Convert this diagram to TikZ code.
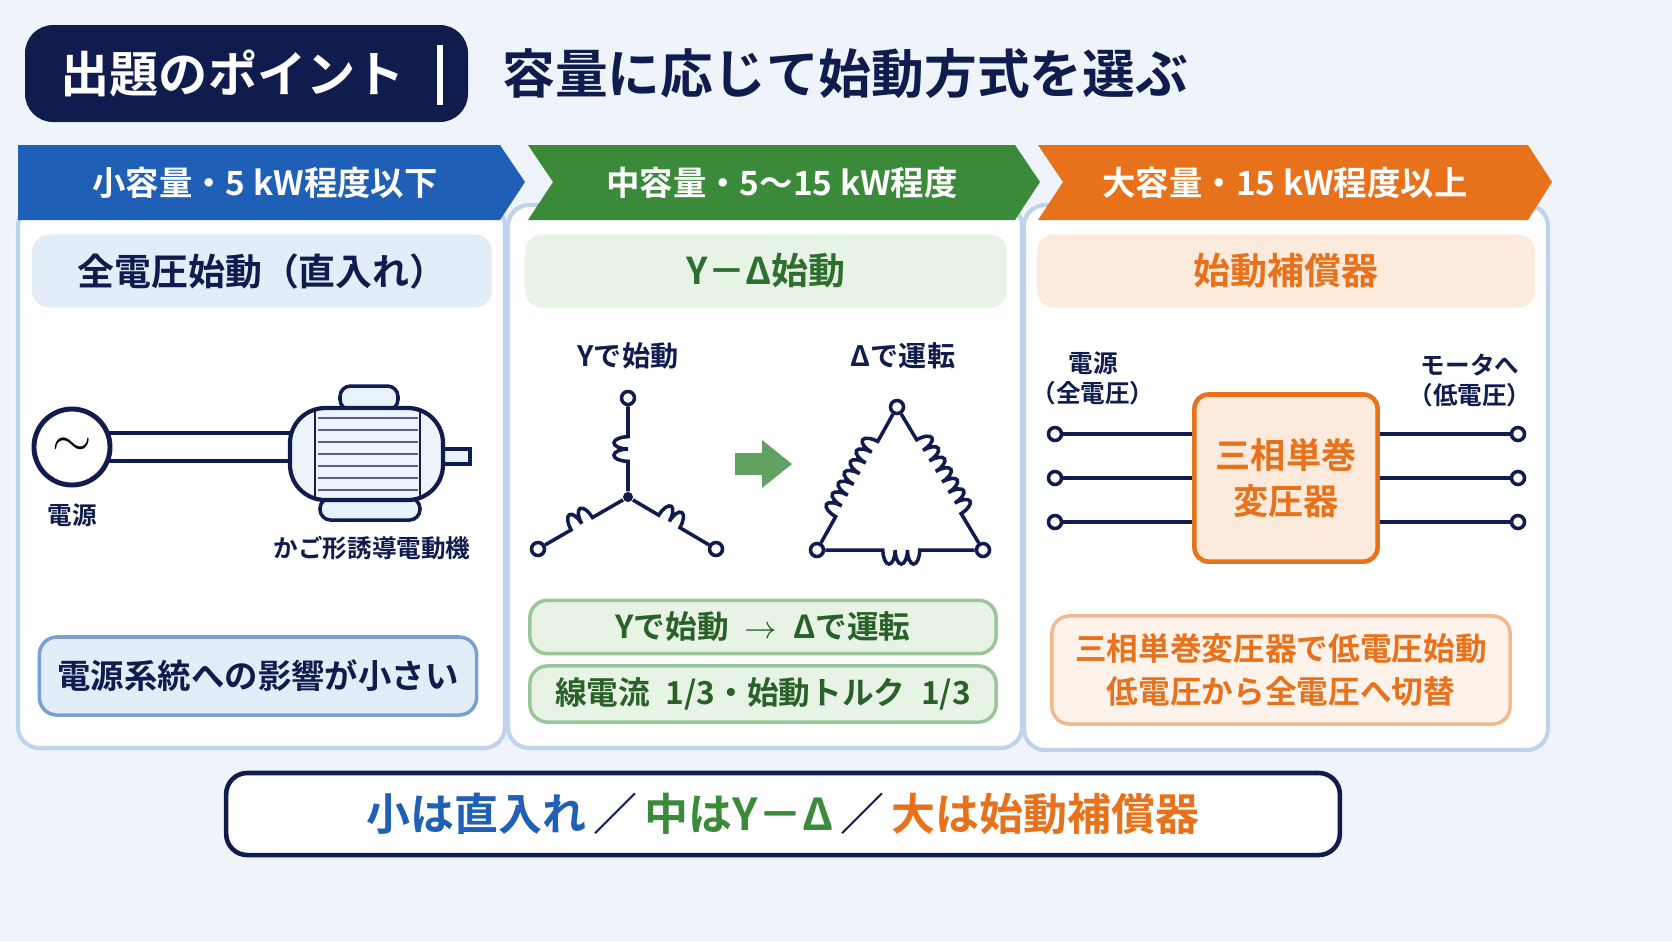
\documentclass[tikz,border=0pt]{standalone}
\usepackage{fontspec}
\setmainfont{Noto Sans CJK JP}[BoldFont={Noto Sans CJK JP Bold}]
\usetikzlibrary{arrows.meta,decorations.pathmorphing,shapes.arrows}
\definecolor{navy}{HTML}{0F1C4D}
\definecolor{cblue}{HTML}{1F5FB5}
\definecolor{cgreen}{HTML}{3A8A3A}
\definecolor{corange}{HTML}{E8721C}
\definecolor{lblue}{HTML}{E3EDF9}
\definecolor{lgreen}{HTML}{E7F3E4}
\definecolor{lorange}{HTML}{FCEBDD}
\definecolor{pborder}{HTML}{BFD3EC}
\definecolor{bg}{HTML}{EFF4FA}
\tikzset{
  panel/.style={draw=pborder, line width=1.2pt, fill=white, rounded corners=6pt},
  subhead/.style={rounded corners=5pt, minimum width=4.6cm, minimum height=0.73cm, font=\bfseries\fontsize{10.5}{12}\selectfont},
  label/.style={font=\bfseries\fontsize{7}{8.5}\selectfont, text=navy, align=center},
  infobox/.style={rounded corners=5pt, line width=1pt, font=\bfseries\fontsize{8.5}{12}\selectfont, align=center},
  wire/.style={line width=1.3pt, draw=navy},
  term/.style={circle, draw=navy, line width=1pt, fill=white, inner sep=0pt, minimum size=0.13cm},
  coiled/.style={decorate, decoration={bumps, segment length=7pt, amplitude=4pt, pre length=0.3cm, post length=0.3cm}},
}
\begin{document}
\begin{tikzpicture}[x=0.01cm, y=-0.01cm]
\useasboundingbox (0,0) rectangle (1672,941);
\fill[bg] (0,0) rectangle (1672,941);

% title
\fill[navy, rounded corners=8pt] (25,25) rectangle (468,122);
\node[text=white, font=\bfseries\fontsize{14}{17}\selectfont, anchor=west] (point) at (48,74) {出題のポイント};
\draw[white, line width=1.5pt] (440,45) -- (440,105);
\node[text=navy, font=\bfseries\fontsize{15}{17}\selectfont, anchor=west] (title) at (490,74) {容量に応じて始動方式を選ぶ};

% panels
\draw[panel] (18,205) rectangle (505,748);
\draw[panel] (508,205) rectangle (1022,748);
\draw[panel] (1024,205) rectangle (1548,750);

% headers
\fill[cblue] (18,145) -- (500,145) -- (525,182) -- (500,220) -- (18,220) -- cycle;
\fill[cgreen] (528,145) -- (1015,145) -- (1040,182) -- (1015,220) -- (528,220) -- (553,182) -- cycle;
\fill[corange] (1038,145) -- (1528,145) -- (1552,182) -- (1528,220) -- (1038,220) -- (1063,182) -- cycle;
\node[text=white, font=\bfseries\fontsize{9.5}{11}\selectfont] (h1) at (265,183) {小容量・5 kW程度以下};
\node[text=white, font=\bfseries\fontsize{9.5}{11}\selectfont] (h2) at (782,183) {中容量・5～15 kW程度};
\node[text=white, font=\bfseries\fontsize{9.5}{11}\selectfont] (h3) at (1285,183) {大容量・15 kW程度以上};

% sub headers
\node[subhead, fill=lblue, text=navy] (s1) at (262,271) {全電圧始動（直入れ）};
\node[subhead, fill=lgreen, text=cgreen!80!black, minimum width=4.82cm] (s2) at (766,271) {Y－Δ始動};
\node[subhead, fill=lorange, text=corange, minimum width=4.98cm] (s3) at (1286,271) {始動補償器};

% panel 1: direct start
\node[circle, draw=navy, line width=1.4pt, fill=white, minimum size=0.76cm] (src) at (72,447) {\fontsize{14}{14}\selectfont$\sim$};
\coordinate (w1) at (107,433);
\coordinate (w2) at (107,461);
\coordinate (m1) at (296,433);
\coordinate (m2) at (296,461);
\draw[wire] (w1) -- (m1);
\draw[wire] (w2) -- (m2);
\fill[lblue!80!white, draw=navy, line width=1pt] (440,449) rectangle (470,464);
\fill[lblue!80!white, draw=navy, line width=1pt, rounded corners=3pt] (320,498) rectangle (420,520);
\fill[lblue!80!white, draw=navy, line width=1pt, rounded corners=3pt] (340,386) rectangle (398,410);
\fill[lblue!60!white, draw=navy, line width=1.2pt, rounded corners=10pt] (290,408) rectangle (443,500);
\foreach \yy in {418,430,...,490}
  \draw[navy!70, line width=0.6pt] (318,\yy) -- (418,\yy);
\draw[navy, line width=0.8pt] (315,410) -- (315,498);
\draw[navy, line width=0.8pt] (420,410) -- (420,498);
\node[label] (l1) at (72,515) {電源};
\node[label] (l2) at (372,548) {かご形誘導電動機};
\node[infobox, draw=cblue!60, fill=lblue, text=navy, minimum width=4.37cm, minimum height=0.78cm] (b1) at (258,676) {\fontsize{9.5}{12}\selectfont 電源系統への影響が小さい};

% panel 2: star-delta
\node[label, font=\bfseries\fontsize{8}{9}\selectfont] (ly) at (628,356) {Yで始動};
\node[label, font=\bfseries\fontsize{8}{9}\selectfont] (ld) at (903,356) {Δで運転};
\node[circle, fill=navy, inner sep=0pt, minimum size=0.1cm] (yc) at (628,497) {};
\node[term] (yt) at (628,398) {};
\node[term] (yl) at (538,549) {};
\node[term] (yr) at (716,549) {};
\draw[navy, line width=1pt, coiled] (yc) -- (yt);
\draw[navy, line width=1pt, coiled] (yl) -- (yc);
\draw[navy, line width=1pt, coiled] (yc) -- (yr);
\fill[cgreen!80] (735,453) -- (762,453) -- (762,440) -- (792,464) -- (762,488) -- (762,475) -- (735,475) -- cycle;
\node[term] (dt) at (897,407) {};
\node[term] (dl) at (817,550) {};
\node[term] (dr) at (983,550) {};
\draw[navy, line width=1pt, coiled] (dl) -- (dt);
\draw[navy, line width=1pt, coiled] (dt) -- (dr);
\draw[navy, line width=1pt, decorate, decoration={bumps, segment length=7pt, amplitude=4pt, pre length=0.55cm, post length=0.55cm}] (dr) -- (dl);
\node[infobox, draw=cgreen!50, fill=lgreen, text=cgreen!70!black, minimum width=4.66cm, minimum height=0.51cm] (b2) at (763,627) {\fontsize{9}{11}\selectfont Yで始動\enspace $\rightarrow$\enspace Δで運転};
\node[infobox, draw=cgreen!50, fill=lgreen, text=cgreen!70!black, minimum width=4.66cm, minimum height=0.52cm] (b3) at (763,694) {\fontsize{9}{11}\selectfont 線電流\enspace 1/3・始動トルク\enspace 1/3};

% panel 3: compensator
\node[label] (lp) at (1093,378) {電源\\（全電圧）};
\node[label] (lm) at (1470,380) {モータへ\\（低電圧）};
\node[draw=corange, line width=1.3pt, fill=lorange, rounded corners=4pt, minimum width=1.83cm, minimum height=1.67cm, text=corange, font=\bfseries\fontsize{10}{13}\selectfont, align=center] (tr) at (1286,478) {三相単巻\\変圧器};
\foreach \yy [count=\i] in {434,478,522} {
  \node[term] (pi\i) at (1055,\yy) {};
  \node[term] (po\i) at (1518,\yy) {};
  \draw[wire] (pi\i) -- (tr.west |- pi\i);
  \draw[wire] (tr.east |- po\i) -- (po\i);
}
\node[infobox, draw=corange!50, fill=lorange!60, text=corange, minimum width=4.58cm, minimum height=1.08cm] (b4) at (1281,670) {\fontsize{9}{14}\selectfont 三相単巻変圧器で低電圧始動\\ \fontsize{9}{14}\selectfont 低電圧から全電圧へ切替};

% summary
\node[draw=navy, line width=1.3pt, fill=white, rounded corners=6pt, minimum width=11.13cm, minimum height=0.82cm, font=\bfseries\fontsize{12.5}{15}\selectfont] (sum) at (783,814)
  {\textcolor{cblue}{小は直入れ}\,\textcolor{navy}{／}\,\textcolor{cgreen}{中はY－Δ}\,\textcolor{navy}{／}\,\textcolor{corange}{大は始動補償器}};
\end{tikzpicture}
\end{document}
